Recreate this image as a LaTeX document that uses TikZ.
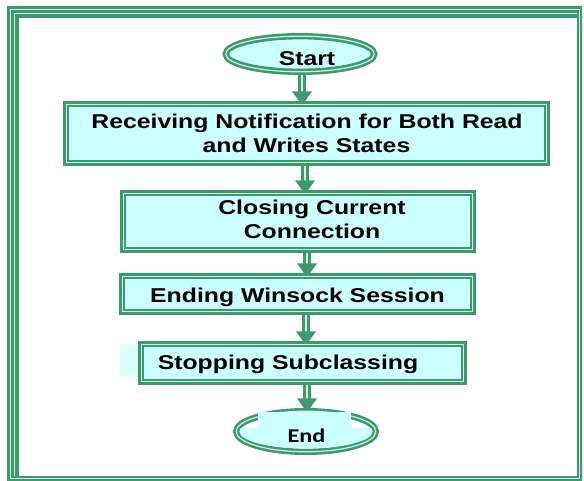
\documentclass[tikz,border=0pt]{standalone}
\usepackage{fontspec}
\setmainfont{Liberation Sans}[FakeStretch=1.24]
\newfontfamily\endfont{Carlito}[FakeStretch=1.24]
\usetikzlibrary{shapes.geometric,calc}
\definecolor{flowgreen}{HTML}{3C9A6E}
\definecolor{boxfill}{HTML}{CCFFFF}
\definecolor{seam}{HTML}{D6EEE1}
\pgfdeclarelayer{bg}
\pgfsetlayers{bg,main}
\tikzset{
  dbl/.style={draw=flowgreen, line width=2.6pt, double=seam, double distance=1.2pt},
  stepbox/.style={dbl, rectangle, fill=boxfill, inner sep=0pt},
  terminal/.style={dbl, ellipse, fill=boxfill, inner sep=0pt},
  steptext/.style={anchor=base, inner sep=0pt, font=\fontsize{20}{24}\selectfont\bfseries},
  shaft/.style={draw=flowgreen, line width=8pt},
  shaftseam/.style={draw=seam, line width=1.1pt},
}
% double-shafted arrow from node #1 to node #2 along the column of coordinate #3
\newcommand\flowarrow[3]{%
  \begin{pgfonlayer}{bg}
    \coordinate (tip) at ($(#2.north -| #3)+(0,2.5)$);
    \draw[shaft] (#1.south -| #3) -- ($(tip)+(0,-13)$);
    \draw[shaftseam] (#1.south -| #3) -- ($(tip)+(0,-13)$);
    \fill[flowgreen] ($(tip)+(-10,-14)$) -- ($(tip)+(10,-14)$) -- (tip) -- cycle;
  \end{pgfonlayer}}
\begin{document}
\begin{tikzpicture}[x=1pt,y=-1pt]
\useasboundingbox (0,0) rectangle (584,481);

% outer frame
\fill[flowgreen, even odd rule] (7,6) rectangle (582,481) (19,18) rectangle (577,476);
\draw[seam, line width=0.9pt] (10,9.5) rectangle (579.5,478.5);
\draw[seam, line width=0.9pt] (14.3,476) -- (14.3,13.8) -- (577,13.8);

% flow steps
\node[terminal, minimum width=148.6pt, minimum height=35.6pt] (start) at (300,54) {};
\node[stepbox, minimum width=480.6pt, minimum height=58.6pt] (recv) at (306.5,133.5) {};
\node[stepbox, minimum width=349.6pt, minimum height=56.6pt] (close) at (298,221.5) {};
\node[stepbox, minimum width=350.6pt, minimum height=35.6pt] (wsend) at (297.5,294) {};
\fill[boxfill!70!white] (120,344) rectangle (138,377);
\node[stepbox, minimum width=322.6pt, minimum height=37.6pt] (unsub) at (302.5,363) {};
\node[dbl, ellipse, fill=white, inner sep=0pt, minimum width=139.6pt, minimum height=40.6pt] (stop) at (306,431.5) {};
\begin{scope}
  \clip (306,431.5) ellipse [x radius=66.6, y radius=17.1];
  \fill[boxfill] (230,428) rectangle (382,460);
\end{scope}
\fill[boxfill] (258,412) rectangle (351,430);

% labels
\node[steptext] (tstart) at (307,66) {Start};
\node[steptext] (trecva) at (307,129) {Receiving Notification for Both Read};
\node[steptext] (trecvb) at (306.5,153) {and Writes States};
\node[steptext] (tclosea) at (312,215) {Closing Current};
\node[steptext] (tcloseb) at (312,239) {Connection};
\node[steptext] (twsend) at (297.5,302) {Ending Winsock Session};
\node[steptext] (tunsub) at (288,369) {Stopping Subclassing};
\node[anchor=base, inner sep=0pt, font=\endfont\fontsize{19.5}{23}\selectfont\bfseries] (tstop) at (306.5,442) {End};

% connectors
\coordinate (c1) at (302,0);
\coordinate (c2) at (305,0);
\coordinate (c3) at (307,0);
\coordinate (c4) at (306,0);
\coordinate (c5) at (307,0);
\flowarrow{start}{recv}{c1}
\flowarrow{recv}{close}{c2}
\flowarrow{close}{wsend}{c3}
\flowarrow{wsend}{unsub}{c4}
\flowarrow{unsub}{stop}{c5}
\end{tikzpicture}
\end{document}
